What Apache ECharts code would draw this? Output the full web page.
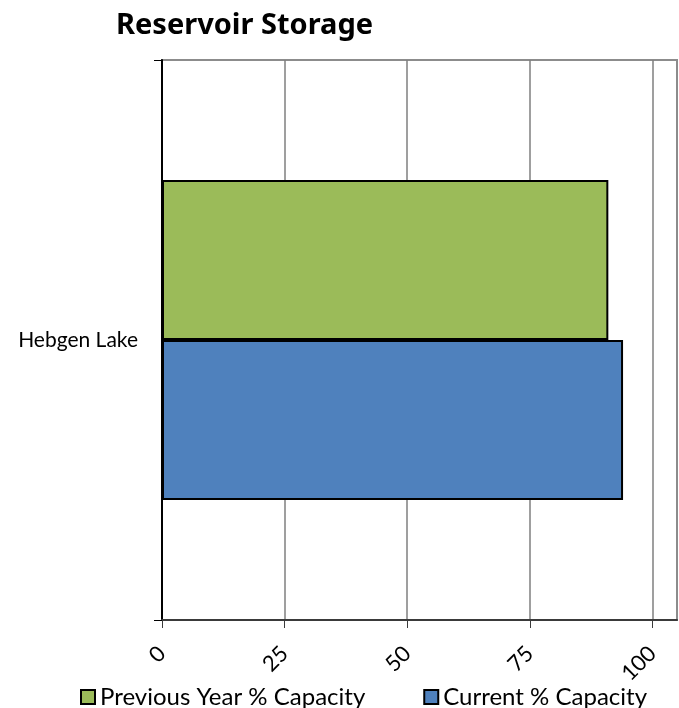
<!DOCTYPE html>
<html>
<head>
<meta charset="utf-8">
<style>
  html, body { margin: 0; padding: 0; background: #fff; }
  #chart { width: 679px; height: 708px; }
</style>
<script src="https://cdn.jsdelivr.net/npm/echarts@6/dist/echarts.min.js"></script>
</head>
<body>
<div id="chart"></div>
<script>
// Reservoir storage, percent of capacity
const reservoirs = ['Hebgen Lake'];
const previousYearPct = [91];
const currentPct = [94];
const xTickValues = [0, 25, 50, 75, 100];

const FONT = 'Lato, "Open Sans", sans-serif';

const chart = echarts.init(document.getElementById('chart'));

chart.setOption({
  animation: false,
  backgroundColor: '#ffffff',
  title: {
    text: 'Reservoir Storage',
    left: 111,
    top: 6,
    textStyle: { fontFamily: '"Noto Sans", sans-serif', fontWeight: 'bold', fontSize: 29, color: '#000' }
  },
  grid: {
    left: 162, top: 60, right: 2, bottom: 88,
    show: true, borderColor: '#8c8c8c', borderWidth: 2,
    containLabel: false
  },
  legend: {
    data: ['Previous Year % Capacity', 'Current % Capacity'],
    left: 75,
    top: 680,
    icon: 'rect',
    itemWidth: 14,
    itemHeight: 14,
    itemGap: 58,
    textStyle: { fontFamily: FONT, fontSize: 24, color: '#000', padding: [0, 0, 0, 0] },
    itemStyle: { borderColor: '#000', borderWidth: 2 }
  },
  xAxis: {
    type: 'value',
    min: 0,
    max: 105,
    interval: 25,
    axisLine: { show: true, lineStyle: { color: '#3a3a3a', width: 2 } },
    axisTick: { show: true, length: 8, customValues: xTickValues, lineStyle: { color: '#3a3a3a', width: 1 } },
    axisLabel: {
      customValues: xTickValues,
      rotate: 45,
      margin: 30,
      fontFamily: FONT,
      fontSize: 22,
      color: '#000'
    },
    splitLine: { show: true, lineStyle: { color: '#7f7f7f', width: 1.5 } }
  },
  yAxis: {
    type: 'category',
    data: reservoirs,
    axisLine: { show: true, lineStyle: { color: '#000', width: 2 } },
    axisTick: { show: true, length: 8, lineStyle: { color: '#000', width: 1 } },
    axisLabel: { margin: 24, fontFamily: FONT, fontSize: 21, color: '#000' },
    splitLine: { show: false }
  },
  series: [
    {
      name: 'Previous Year % Capacity',
      type: 'bar',
      data: previousYearPct,
      barGap: 0,
      barCategoryGap: '42.86%',
      itemStyle: { color: '#9bbb59', borderColor: '#000', borderWidth: 2 }
    },
    {
      name: 'Current % Capacity',
      type: 'bar',
      data: currentPct,
      barGap: 0,
      barCategoryGap: '42.86%',
      itemStyle: { color: '#4f81bd', borderColor: '#000', borderWidth: 2 }
    }
  ]
});
</script>
</body>
</html>
